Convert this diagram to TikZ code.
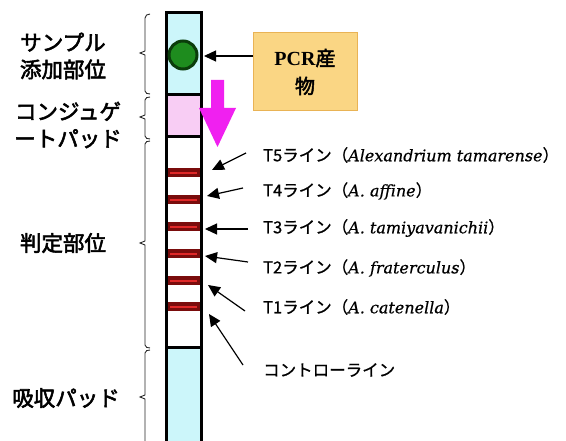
\documentclass[tikz,border=0pt]{standalone}
\usepackage{fontspec}
\setmainfont{Liberation Serif}
\newfontfamily\jp[AutoFakeBold=2.5]{Noto Sans CJK JP}
\newfontfamily\jpm[FakeBold=0.8]{Noto Sans CJK JP}
\newfontfamily\lat[FakeBold=0.5]{DejaVu Serif}
\usetikzlibrary{arrows.meta}
\definecolor{padblue}{HTML}{CCF6FA}
\definecolor{padpink}{HTML}{F8CDF4}
\definecolor{dotgreen}{HTML}{1E8C1E}
\definecolor{dotedge}{HTML}{0B3D0B}
\definecolor{flowmag}{HTML}{F020F0}
\definecolor{pcrfill}{HTML}{FAD684}
\definecolor{pcredge}{HTML}{E9B355}
\definecolor{banddark}{HTML}{7A0C0C}
\definecolor{bandred}{HTML}{E02828}
\newcommand{\spname}[1]{{\lat\itshape\fontsize{16}{18}\selectfont #1}}
\tikzset{
  leftlab/.style={font=\jp\bfseries\fontsize{21.5}{27}\selectfont, align=center, inner sep=0pt},
  rightlab/.style={font=\jpm\fontsize{16.5}{18}\selectfont, anchor=west, inner sep=0pt},
  pointer/.style={line width=1.2pt, -{Triangle[length=12pt,width=11pt]}},
  brace/.style={line width=0.9pt, black!85},
}
\begin{document}
\begin{tikzpicture}[x=1pt,y=-1pt]
\useasboundingbox (0,0) rectangle (566,441);
% strip fills
\fill[padblue] (166,13) rectangle (201,95);
\fill[padpink] (166,95) rectangle (201,137);
\fill[white] (166,137) rectangle (201,348);
\fill[padblue] (166,348) rectangle (201,445);
% red bands
\foreach \yy in {173,200,227,254,281,307}{
  \fill[banddark] (167,\yy-4.5) rectangle (200,\yy+4.5);
  \draw[bandred, line width=2.4pt] (170,\yy) -- (197,\yy);
}
% strip outline
\draw[line width=3pt] (166,445) -- (166,13) -- (201,13) -- (201,445);
\draw[line width=3pt] (166,95) -- (201,95) (166,137) -- (201,137) (166,348) -- (201,348);
% green sample spot
\node[circle, fill=dotgreen, draw=dotedge, line width=3pt, minimum size=28pt, inner sep=0pt] (spot) at (183,55) {};
% magenta flow arrow
\fill[flowmag] (211,80) -- (224,80) -- (224,108) -- (236,108) -- (217.5,147) -- (199,108) -- (211,108) -- cycle;
% PCR box
\node[draw=pcredge, fill=pcrfill, line width=1pt, minimum width=104pt, minimum height=78pt, align=center,
      font=\bfseries\fontsize{20}{28}\selectfont] (pcr) at (305,72) {PCR{\jp 産}\\{\jp 物}};
\coordinate (pcrA) at (253,56);
\coordinate (spotTip) at (204,56);
\draw[pointer] (pcrA) -- (spotTip);
% braces
\draw[brace] (150,14) to[out=180,in=90] (145,18) -- (145,51) -- (140,53) -- (145,55) -- (145,91) to[out=-90,in=180] (150,94);
\draw[brace] (150,97) to[out=180,in=90] (145,100) -- (145,115) -- (140,117) -- (145,119) -- (145,136) to[out=-90,in=180] (150,139);
\draw[brace] (150,141) to[out=180,in=90] (145,144) -- (145,241) -- (140,243) -- (145,245) -- (145,345) to[out=-90,in=180] (150,348);
\draw[brace] (150,350) to[out=180,in=90] (145,353) -- (145,395) -- (140,397) -- (145,399) -- (145,445);
% left labels
\node[leftlab] (lsample) at (63,56) {サンプル\\添加部位};
\node[leftlab] (lconj) at (68,125) {コンジュゲ\\ートパッド};
\node[leftlab] (ljudge) at (63,243) {判定部位};
\node[leftlab] (labs) at (66,398) {吸収パッド};
% right labels
\node[rightlab] (t5) at (263,155) {T5ライン（\spname{Alexandrium tamarense}）};
\node[rightlab] (t4) at (263,191) {T4ライン（\spname{A. affine}）};
\node[rightlab] (t3) at (263,228) {T3ライン（\spname{A. tamiyavanichii}）};
\node[rightlab] (t2) at (263,268) {T2ライン（\spname{A. fraterculus}）};
\node[rightlab] (t1) at (263,307) {T1ライン（\spname{A. catenella}）};
\node[rightlab] (tc) at (263,370) {コントローライン};
% pointer arrows
\coordinate (a5) at (246,153); \coordinate (b5) at (212,170);
\coordinate (a4) at (243,188); \coordinate (b4) at (207,196);
\coordinate (a3) at (248,229); \coordinate (b3) at (205,229);
\coordinate (a2) at (248,262); \coordinate (b2) at (205,256);
\coordinate (a1) at (245,311); \coordinate (b1) at (208,285);
\coordinate (ac) at (243,365); \coordinate (bc) at (209,314);
\foreach \p in {5,4,3,2,1,c}{\draw[pointer] (a\p) -- (b\p);}
\end{tikzpicture}
\end{document}
